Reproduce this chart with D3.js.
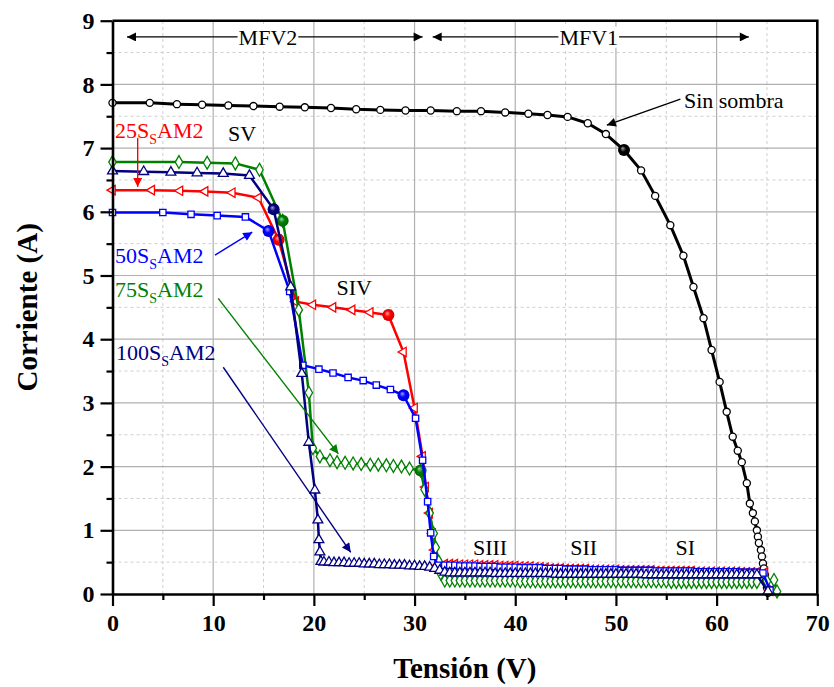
<!DOCTYPE html>
<html>
<head>
<meta charset="utf-8">
<script src="https://cdn.jsdelivr.net/npm/d3@7"></script>
<style>
  body { margin: 0; background: #fff; }
  svg { display: block; }
</style>
</head>
<body>
<div id="chart"></div>
<script>
// ---- data (V in volts, I in amps) ----
const vSin = [0,3.7,6.4,8.9,11.5,14.0,16.6,19.1,21.7,24.2,26.6,29.1,31.6,34.2,36.6,39.0,41.3,43.2,45.2,47.2,49.0,50.8,52.5,53.9,55.4,56.7,57.7,58.7,59.5,60.3,61.0,61.6,62.1,62.5,63.0,63.3,63.6,63.8,64.0,64.1,64.2,64.4,64.5,64.6,64.7,64.8,64.9,65.0,65.1];
const iSin = [7.71,7.71,7.69,7.68,7.67,7.66,7.65,7.64,7.63,7.61,7.60,7.59,7.59,7.58,7.58,7.56,7.54,7.52,7.49,7.39,7.22,6.97,6.65,6.25,5.79,5.31,4.82,4.33,3.83,3.33,2.86,2.47,2.25,2.07,1.74,1.42,1.27,1.14,1.00,0.90,0.80,0.69,0.59,0.48,0.40,0.30,0.20,0.10,0.02];

const v25 = [0,3.9,6.7,9.2,11.9,14.5,16.5,18.2,19.9,21.9,23.8,25.6,27.4,28.9,30.0,30.8,31.1,31.5,31.8,32.0,32.4];
const i25 = [6.34,6.34,6.33,6.32,6.30,6.22,5.56,4.59,4.54,4.50,4.46,4.42,4.38,3.80,2.92,2.16,1.68,1.27,0.95,0.69,0.46];

const v50 = [0,5.0,7.8,10.4,13.2,15.5,17.6,18.9,20.5,21.9,23.4,24.9,26.2,27.6,28.9,30.1,30.8,31.3,31.6,31.9,32.3];
const i50 = [5.99,5.99,5.96,5.94,5.92,5.70,4.75,3.59,3.53,3.47,3.40,3.35,3.28,3.21,3.12,2.76,2.10,1.45,0.96,0.59,0.45];

const v75 = [0,6.6,9.4,12.2,14.6,16.9,18.5,19.5,19.9,20.6,21.6,22.3,23.1,23.9,24.7,25.6,26.4,27.2,27.9,28.7,29.5,30.6,31.0,31.5,31.9,32.1,32.4,32.6];
const i75 = [6.78,6.78,6.77,6.76,6.66,5.86,4.46,3.16,2.29,2.16,2.10,2.07,2.06,2.05,2.04,2.03,2.03,2.02,2.01,2.00,1.97,1.94,1.64,1.27,0.95,0.73,0.51,0.32];

const v100 = [0,3.1,5.8,8.4,11.0,13.6,16.0,17.7,18.8,19.5,20.1,20.4,20.5,20.6,20.7];
const i100 = [6.64,6.63,6.62,6.61,6.60,6.57,6.04,4.82,3.46,2.38,1.63,1.16,0.85,0.66,0.51];

// 100SsAM2 plateau between the two modules' knees
const vMid = [21,21.5,22,22.5,23,23.5,24,24.5,25,25.5,26,26.5,27,27.5,28,28.5,29,29.5,30,30.5,31,31.5,32,32.5];
const i100Mid = [0.50,0.50,0.49,0.49,0.49,0.48,0.48,0.48,0.47,0.47,0.47,0.46,0.46,0.46,0.45,0.45,0.45,0.44,0.44,0.43,0.43,0.42,0.40,0.37];

// low-current band (bypass diodes), shared voltages
const vLow = [33,33.5,34,34.5,35,35.5,36,36.5,37,37.5,38,38.5,39,39.5,40,40.5,41,41.5,42,42.5,43,43.5,44,44.5,45,45.5,46,46.5,47,47.5,48,48.5,49,49.5,50,50.5,51,51.5,52,52.5,53,53.5,54,54.5,55,55.5,56,56.5,57,57.5,58,58.5,59,59.5,60,60.5,61,61.5,62,62.5,63,63.5,64];
const i25Low = [0.47,0.47,0.47,0.46,0.46,0.46,0.46,0.45,0.45,0.45,0.45,0.44,0.44,0.44,0.44,0.43,0.43,0.43,0.42,0.42,0.41,0.40,0.40,0.40,0.39,0.39,0.39,0.39,0.39,0.38,0.38,0.38,0.38,0.38,0.38,0.37,0.37,0.37,0.37,0.37,0.37,0.37,0.36,0.36,0.36,0.36,0.36,0.36,0.36,0.36,0.35,0.35,0.35,0.35,0.35,0.35,0.35,0.35,0.35,0.34,0.34,0.34,0.34];
const i50Low = [0.45,0.45,0.45,0.44,0.44,0.44,0.44,0.43,0.43,0.43,0.43,0.42,0.42,0.42,0.42,0.41,0.41,0.41,0.41,0.41,0.40,0.40,0.40,0.40,0.39,0.39,0.39,0.39,0.39,0.38,0.38,0.38,0.38,0.38,0.38,0.37,0.37,0.37,0.37,0.37,0.37,0.37,0.36,0.36,0.36,0.36,0.36,0.36,0.36,0.36,0.35,0.35,0.35,0.35,0.35,0.35,0.35,0.35,0.35,0.34,0.34,0.34,0.34];
const i75Low = [0.21,0.21,0.21,0.21,0.21,0.21,0.21,0.21,0.21,0.21,0.21,0.21,0.21,0.21,0.21,0.20,0.20,0.20,0.20,0.20,0.20,0.20,0.20,0.20,0.20,0.20,0.20,0.20,0.20,0.20,0.20,0.20,0.20,0.20,0.20,0.20,0.20,0.20,0.20,0.20,0.20,0.20,0.20,0.20,0.20,0.19,0.19,0.19,0.19,0.19,0.19,0.19,0.19,0.19,0.19,0.19,0.19,0.19,0.19,0.19,0.19,0.19,0.19];
const i100Low = [0.34,0.33,0.33,0.33,0.33,0.33,0.33,0.33,0.33,0.33,0.32,0.32,0.32,0.32,0.32,0.32,0.32,0.32,0.32,0.32,0.32,0.32,0.31,0.31,0.31,0.31,0.31,0.31,0.31,0.31,0.31,0.31,0.31,0.31,0.31,0.31,0.31,0.31,0.31,0.31,0.30,0.30,0.30,0.30,0.30,0.30,0.30,0.30,0.30,0.30,0.30,0.30,0.30,0.30,0.30,0.30,0.30,0.30,0.30,0.30,0.30,0.30,0.30];

// end of each curve (drop to zero current)
const tail25 = [[64.8,0.34],[65.3,0.05]];
const tail50 = [[64.6,0.33],[65.3,0.06]];
const tail75 = [[65.0,0.20],[65.7,0.22],[66.0,0.04]];
const tail100 = [[65.1,0.04]];

// maximum power points (filled circles)
const mppSin = [[50.8,6.97]];
const mpp25 = [[16.5,5.56],[27.4,4.38]];
const mpp50 = [[15.5,5.70],[28.9,3.12]];
const mpp75 = [[16.9,5.86],[30.6,1.94]];
const mpp100 = [[16.0,6.04]];

const xMajor = [0,10,20,30,40,50,60,70];
const xMinor = [5,15,25,35,45,55,65];
const yMajor = [0,1,2,3,4,5,6,7,8,9];
const yMinor = [0.5,1.5,2.5,3.5,4.5,5.5,6.5,7.5,8.5];

const width = 834;
const height = 687;
const margin = {top: 20.7, right: 16.7, bottom: 93, left: 112.5};
const serif = "'Liberation Serif', 'Times New Roman', serif";

const C = {sin: "#000000", s25: "#ff0000", s50: "#0000ff", s75: "#008000", s100: "#000080"};

const svg = d3.select("#chart").append("svg")
  .attr("width", width)
  .attr("height", height)
  .attr("viewBox", [0, 0, width, height]);

const x = d3.scaleLinear().domain([0, 70]).range([margin.left, width - margin.right]);
const y = d3.scaleLinear().domain([0, 9]).range([height - margin.bottom, margin.top]);

const defs = svg.append("defs");
Object.entries(C).forEach(([k, c]) => {
  defs.append("marker")
    .attr("id", "ah-" + k)
    .attr("viewBox", "0 0 10 10")
    .attr("refX", 10).attr("refY", 5)
    .attr("markerUnits", "userSpaceOnUse")
    .attr("markerWidth", 16).attr("markerHeight", 9)
    .attr("orient", "auto-start-reverse")
    .append("path").attr("d", "M0,0L10,5L0,10Z").attr("fill", c);
  const g = defs.append("radialGradient").attr("id", "ball-" + k)
    .attr("cx", 0.5).attr("cy", 0.5).attr("r", 0.55).attr("fx", 0.38).attr("fy", 0.35);
  g.append("stop").attr("offset", 0).attr("stop-color", d3.interpolateRgb(c, "#fff")(0.65));
  g.append("stop").attr("offset", 0.45).attr("stop-color", c);
  g.append("stop").attr("offset", 1).attr("stop-color", d3.color(c).darker(0.7));
});

// grid
const grid = svg.append("g");
grid.selectAll(".gxm").data(xMinor).join("line")
  .attr("x1", d => x(d)).attr("x2", d => x(d)).attr("y1", y(0)).attr("y2", y(9))
  .attr("stroke", "#cfcfcf").attr("stroke-dasharray", "3,3");
grid.selectAll(".gym").data(yMinor).join("line")
  .attr("x1", x(0)).attr("x2", x(70)).attr("y1", d => y(d)).attr("y2", d => y(d))
  .attr("stroke", "#cfcfcf").attr("stroke-dasharray", "3,3");
grid.selectAll(".gxM").data(xMajor.slice(1, -1)).join("line")
  .attr("x1", d => x(d)).attr("x2", d => x(d)).attr("y1", y(0)).attr("y2", y(9))
  .attr("stroke", "#b0b0b0").attr("stroke-width", 1.2);
grid.selectAll(".gyM").data(yMajor.slice(1, -1)).join("line")
  .attr("x1", x(0)).attr("x2", x(70)).attr("y1", d => y(d)).attr("y2", d => y(d))
  .attr("stroke", "#b0b0b0").attr("stroke-width", 1.2);

// curves
const line = d3.line().x(d => x(d[0])).y(d => y(d[1]));

function series(vh, ih, vb, ib, tail) {
  let pts = d3.zip(vh, ih);
  if (vb) pts = pts.concat(d3.zip(vb, ib));
  if (tail) pts = pts.concat(tail);
  return pts;
}

const sin = series(vSin, iSin);
const s25 = series(v25, i25, vLow, i25Low, tail25);
const s50 = series(v50, i50, vLow, i50Low, tail50);
const s75 = series(v75, i75, vLow, i75Low, tail75);
const s100 = series(v100, i100, vMid, i100Mid).concat(d3.zip(vLow, i100Low), tail100);

const curves = [
  {key: "sin", pts: sin, mpp: mppSin, sym: d3.symbolCircle, size: 40, rot: 0, lw: 3},
  {key: "s25", pts: s25, mpp: mpp25, sym: d3.symbolTriangle, size: 38, rot: -90, lw: 2.5},
  {key: "s75", pts: s75, mpp: mpp75, sym: d3.symbolDiamond, size: 48, rot: 0, lw: 2.5},
  {key: "s50", pts: s50, mpp: mpp50, sym: d3.symbolSquare, size: 40, rot: 0, lw: 2.5},
  {key: "s100", pts: s100, mpp: mpp100, sym: d3.symbolTriangle, size: 42, rot: 0, lw: 2.5}
];

const plot = svg.append("g");
curves.forEach(s => {
  const c = C[s.key];
  const g = plot.append("g");
  g.append("path").datum(s.pts)
    .attr("d", line).attr("fill", "none")
    .attr("stroke", c).attr("stroke-width", s.lw).attr("stroke-linejoin", "round");
  g.selectAll("path.pt").data(s.pts).join("path")
    .attr("class", "pt")
    .attr("d", d3.symbol().type(s.sym).size(s.size))
    .attr("transform", d => `translate(${x(d[0])},${y(d[1])}) rotate(${s.rot})`)
    .attr("fill", "#fff").attr("stroke", c).attr("stroke-width", 1.3);
  g.selectAll("circle.mpp").data(s.mpp).join("circle")
    .attr("class", "mpp")
    .attr("cx", d => x(d[0])).attr("cy", d => y(d[1])).attr("r", 6)
    .attr("fill", `url(#ball-${s.key})`);
});

// axes
const xAxis = svg.append("g").attr("transform", `translate(0,${y(0)})`)
  .call(d3.axisBottom(x).tickValues(xMajor).tickSize(12).tickSizeOuter(0).tickPadding(8).tickFormat(d3.format("d")));
svg.append("g").attr("transform", `translate(0,${y(0)})`)
  .call(d3.axisBottom(x).tickValues(xMinor).tickSize(6).tickSizeOuter(0).tickFormat(""))
  .call(g => g.select(".domain").remove());
const yAxis = svg.append("g").attr("transform", `translate(${x(0)},0)`)
  .call(d3.axisLeft(y).tickValues(yMajor).tickSize(12).tickSizeOuter(0).tickPadding(6).tickFormat(d3.format("d")));
svg.append("g").attr("transform", `translate(${x(0)},0)`)
  .call(d3.axisLeft(y).tickValues(yMinor).tickSize(6).tickSizeOuter(0).tickFormat(""))
  .call(g => g.select(".domain").remove());

svg.selectAll(".domain").attr("stroke-width", 2.6);
svg.selectAll(".tick line").attr("stroke-width", 2.2);
[xAxis, yAxis].forEach(a => a.selectAll("text")
  .attr("font-family", serif).attr("font-size", 24).attr("font-weight", "bold").attr("fill", "#000"));

// frame top and right
svg.append("path")
  .attr("d", `M${x(0)},${y(9)}H${x(70)}V${y(0)}`)
  .attr("fill", "none").attr("stroke", "#000").attr("stroke-width", 2.6);

// axis titles
svg.append("text")
  .attr("x", x(35)).attr("y", 678)
  .attr("text-anchor", "middle")
  .attr("font-family", serif).attr("font-size", 29).attr("font-weight", "bold")
  .text("Tensión (V)");
svg.append("text")
  .attr("transform", `translate(37,${y(4.5)}) rotate(-90)`)
  .attr("text-anchor", "middle")
  .attr("font-family", serif).attr("font-size", 29).attr("font-weight", "bold")
  .text("Corriente (A)");

// module span arrows
const spans = [
  {label: "MFV2", v0: 1.44, v1: 30.8, vc: 15.44, i: 8.745},
  {label: "MFV1", v0: 31.8, v1: 63.2, vc: 47.3, i: 8.745}
];
spans.forEach(s => {
  svg.append("line")
    .attr("x1", x(s.v0)).attr("x2", x(s.v1)).attr("y1", y(s.i)).attr("y2", y(s.i))
    .attr("stroke", "#000").attr("stroke-width", 1.2)
    .attr("marker-start", "url(#ah-sin)").attr("marker-end", "url(#ah-sin)");
  const t = svg.append("text")
    .attr("x", x(s.vc)).attr("y", y(s.i)).attr("dy", "0.35em")
    .attr("text-anchor", "middle")
    .attr("font-family", serif).attr("font-size", 22)
    .text(s.label);
  const b = t.node().getBBox();
  svg.insert("rect", () => t.node())
    .attr("x", b.x - 1).attr("y", b.y + 2).attr("width", b.width + 2).attr("height", b.height - 4)
    .attr("fill", "#fff");
});

// labels with arrows
const labels = [
  {text: "25S_SAM2", key: "s25", v: 0.25, i: 7.28, a: [2.5, 7.16, 2.5, 6.39]},
  {text: "50S_SAM2", key: "s50", v: 0.25, i: 5.31, a: [10.18, 5.32, 13.88, 5.68]},
  {text: "75S_SAM2", key: "s75", v: 0.25, i: 4.79, a: [10.5, 4.64, 22.43, 2.20]},
  {text: "100S_SAM2", key: "s100", v: 0.35, i: 3.80, a: [11.0, 3.56, 23.66, 0.655]},
  {text: "Sin sombra", key: "sin", v: 56.75, i: 7.75, a: [56.4, 7.77, 49.1, 7.36]}
];
labels.forEach(l => {
  const c = C[l.key];
  svg.append("line")
    .attr("x1", x(l.a[0])).attr("y1", y(l.a[1])).attr("x2", x(l.a[2])).attr("y2", y(l.a[3]))
    .attr("stroke", c).attr("stroke-width", 1.4)
    .attr("marker-end", `url(#ah-${l.key})`);
  const t = svg.append("text")
    .attr("x", x(l.v)).attr("y", y(l.i)).attr("dy", "0.35em")
    .attr("font-family", serif).attr("font-size", 22).attr("fill", c);
  const parts = l.text.split("_");
  if (parts.length === 1) {
    t.text(l.text);
  } else {
    t.append("tspan").text(parts[0]);
    t.append("tspan").attr("dy", 6).attr("font-size", 14).text(parts[1].slice(0, 1));
    t.append("tspan").attr("dy", -6).text(parts[1].slice(1));
  }
});

// zone labels
const zones = [
  {text: "SV", v: 12.87, i: 7.24},
  {text: "SIV", v: 24.0, i: 4.81},
  {text: "SIII", v: 37.5, i: 0.73},
  {text: "SII", v: 46.8, i: 0.73},
  {text: "SI", v: 56.9, i: 0.73}
];
svg.append("g").selectAll("text").data(zones).join("text")
  .attr("x", d => x(d.v)).attr("y", d => y(d.i)).attr("dy", "0.35em")
  .attr("text-anchor", "middle")
  .attr("font-family", serif).attr("font-size", 22).attr("fill", "#000")
  .text(d => d.text);
</script>
</body>
</html>
